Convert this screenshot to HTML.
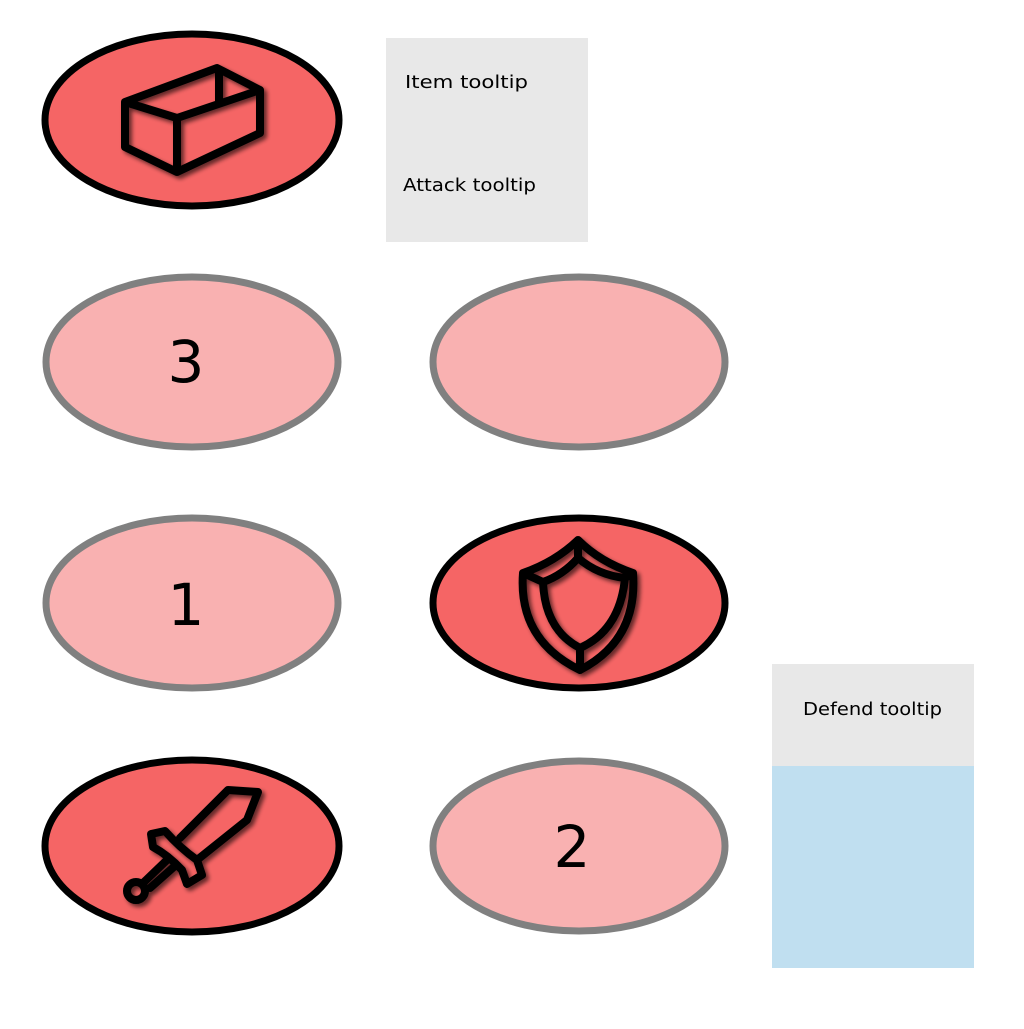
<!DOCTYPE html>
<html><head><style>html,body{margin:0;padding:0;background:#fff;}</style></head>
<body>
<svg width="1024" height="1024" viewBox="0 0 1024 1024" xmlns="http://www.w3.org/2000/svg" font-family="'DejaVu Sans', 'Liberation Sans', sans-serif">
<defs>
<filter id="sh" x="-20%" y="-20%" width="150%" height="150%"><feGaussianBlur in="SourceAlpha" stdDeviation="2"/><feOffset dx="3" dy="3"/><feComponentTransfer><feFuncA type="linear" slope="0.6"/></feComponentTransfer><feMerge><feMergeNode/><feMergeNode in="SourceGraphic"/></feMerge></filter>
</defs>
<rect x="386" y="38" width="202" height="204" fill="#e8e8e8"/>
<text x="405" y="88" font-size="18" textLength="123" lengthAdjust="spacingAndGlyphs" fill="#000">Item tooltip</text>
<text x="403" y="191" font-size="17.5" textLength="133" lengthAdjust="spacingAndGlyphs" fill="#000">Attack tooltip</text>
<rect x="772" y="664" width="202" height="102" fill="#e8e8e8"/>
<rect x="772" y="766" width="202" height="202" fill="#c0dff0"/>
<text x="803" y="715" font-size="17.5" textLength="139" lengthAdjust="spacingAndGlyphs" fill="#000">Defend tooltip</text>

<g stroke-width="7">
<ellipse cx="192" cy="120" rx="147" ry="86" fill="#f56565" stroke="#000"/>
<ellipse cx="192" cy="362" rx="146" ry="85" fill="#f9b1b1" stroke="#808080"/>
<ellipse cx="579" cy="362" rx="146" ry="85" fill="#f9b1b1" stroke="#808080"/>
<ellipse cx="192" cy="603" rx="146" ry="85" fill="#f9b1b1" stroke="#808080"/>
<ellipse cx="579" cy="603" rx="146" ry="85" fill="#f56565" stroke="#000"/>
<ellipse cx="192" cy="846" rx="147" ry="86" fill="#f56565" stroke="#000"/>
<ellipse cx="579" cy="846" rx="146" ry="85" fill="#f9b1b1" stroke="#808080"/>
</g>
<text x="186" y="382" font-size="58" text-anchor="middle" fill="#000">3</text>
<text x="186" y="625" font-size="58" text-anchor="middle" fill="#000">1</text>
<text x="572" y="867" font-size="58" text-anchor="middle" fill="#000">2</text>

<g fill="none" stroke="#000" stroke-width="8" stroke-linejoin="round" stroke-linecap="round" filter="url(#sh)">
<path d="M125 102 L217 68 L260 90 L260 133 L177 172 L125 147 Z M125 102 L177 118 L260 90 M177 118 L177 172 M219 70 L219 101"/>
<path d="M578 540 Q555 562 523 573 Q518 640 580 670 Q638 640 633 573 Q600 562 578 540 Z M578 558 Q563 575 543 582 Q545 630 580 648 Q620 630 625 578 Q598 575 578 558 M578 540 L578 558 M523 573 L543 582 M633 573 L625 578 M580 670 L580 648"/>
<path d="M180 838 L228 790 L258 792 L247 820 L197 860"/>
<path d="M151 834 L165 831 Q180 848 197 860 L202 875 L187 884 L182 870 Q168 855 153 847 Z"/>
<path d="M168 859 L142 884"/>
<path d="M176 865 L150 888"/>
<circle cx="136" cy="891" r="9"/>
</g>
</svg>
</body></html>
